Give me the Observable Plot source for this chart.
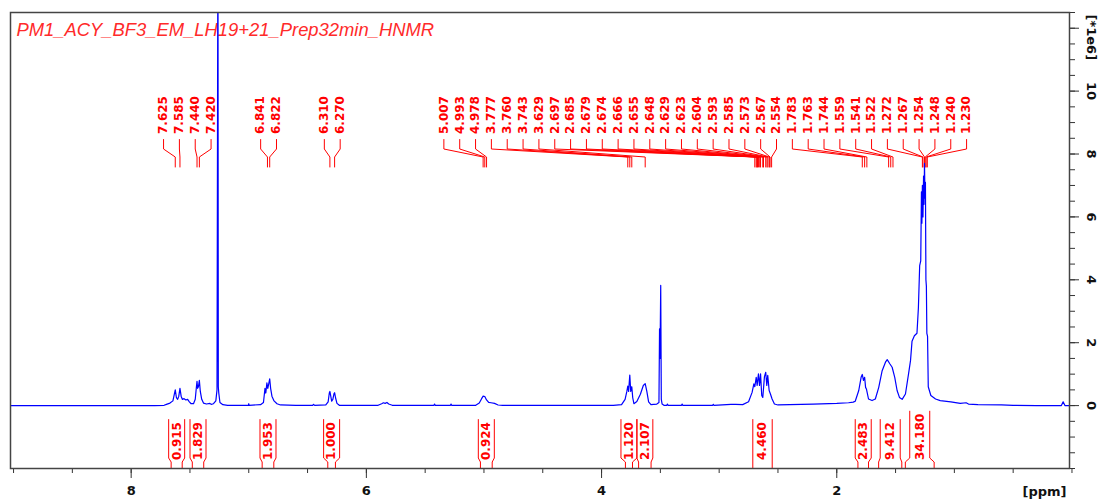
<!DOCTYPE html>
<html><head><meta charset="utf-8">
<script src="https://cdn.jsdelivr.net/npm/d3@7"></script>
<script src="https://cdn.jsdelivr.net/npm/@observablehq/plot@0.6"></script>
<style>html,body{margin:0;padding:0;background:#fff;overflow:hidden}</style>
</head><body><div id="chart"></div>
<script>
// ---------- data ----------
const title = "PM1_ACY_BF3_EM_LH19+21_Prep32min_HNMR";
const shift = [9.03,8.00,7.80,7.72,7.70,7.67,7.645,7.625,7.615,7.605,7.595,7.585,7.575,7.565,7.55,7.535,7.52,7.505,7.49,7.47,7.455,7.445,7.440,7.435,7.428,7.420,7.412,7.40,7.385,7.36,7.33,7.32,7.30,7.28,7.27,7.265,7.262,7.259,7.255,7.245,7.22,7.18,7.05,7.003,7.0,6.997,6.90,6.875,6.862,6.855,6.846,6.838,6.830,6.822,6.814,6.803,6.785,6.76,6.73,6.60,6.455,6.45,6.44,6.345,6.325,6.315,6.310,6.305,6.295,6.285,6.275,6.270,6.262,6.25,6.23,5.90,5.87,5.855,5.84,5.825,5.81,5.78,5.425,5.42,5.415,5.285,5.28,5.275,5.07,5.04,5.02,5.007,4.993,4.978,4.96,4.94,4.91,4.88,4.84,3.90,3.83,3.80,3.785,3.777,3.770,3.760,3.752,3.743,3.735,3.725,3.70,3.67,3.645,3.629,3.615,3.60,3.58,3.53,3.512,3.507,3.503,3.497,3.492,3.485,3.47,3.445,3.44,3.435,3.32,3.315,3.31,3.055,3.05,3.045,2.90,2.86,2.80,2.75,2.72,2.705,2.697,2.685,2.677,2.666,2.657,2.648,2.638,2.629,2.615,2.604,2.595,2.587,2.575,2.564,2.55,2.53,2.50,2.40,2.20,2.00,1.90,1.86,1.843,1.813,1.793,1.783,1.773,1.763,1.755,1.748,1.73,1.70,1.672,1.643,1.614,1.586,1.571,1.549,1.529,1.507,1.487,1.467,1.444,1.416,1.39,1.373,1.36,1.34,1.318,1.306,1.295,1.286,1.280,1.276,1.272,1.267,1.262,1.258,1.254,1.250,1.246,1.242,1.238,1.234,1.228,1.222,1.20,1.16,1.12,1.03,0.95,0.90,0.88,0.80,0.60,0.50,0.30,0.09,0.075,0.06,0.02];
const intensity = [0,0,0,0.01,0.04,0.08,0.15,0.5,0.25,0.2,0.3,0.55,0.3,0.2,0.22,0.18,0.2,0.12,0.06,0.06,0.2,0.6,0.77,0.55,0.6,0.8,0.45,0.2,0.08,0.05,0.07,0.04,0.06,0.15,0.5,10.2,16,0.6,0.4,0.1,0.03,0.01,0.01,0.01,0.06,0.01,0.03,0.1,0.55,0.4,0.72,0.55,0.7,0.85,0.55,0.3,0.15,0.06,0.02,0.01,0.01,0.04,0.01,0.02,0.12,0.4,0.45,0.35,0.14,0.2,0.38,0.41,0.25,0.07,0.01,0.01,0.06,0.09,0.07,0.1,0.05,0.01,0.01,0.05,0.01,0.01,0.05,0.01,0.01,0.08,0.22,0.3,0.29,0.18,0.1,0.09,0.07,0.02,0.01,0.01,0.03,0.2,0.45,0.62,0.45,0.97,0.45,0.6,0.25,0.06,0.13,0.36,0.64,0.7,0.45,0.12,0.03,0.05,0.1,2.44,1.5,3.82,0.2,0.05,0.01,0.01,0.05,0.01,0.01,0.05,0.01,0.01,0.04,0.01,0.04,0.04,0.03,0.12,0.42,0.69,0.6,0.9,0.64,1.01,0.64,1.01,0.32,0.26,0.92,1.06,0.64,0.96,0.48,0.37,0.21,0.05,0.02,0.03,0.05,0.07,0.09,0.11,0.14,0.48,0.9,0.99,0.8,0.9,0.58,0.53,0.21,0.16,0.21,0.58,1.11,1.38,1.46,1.33,1.22,0.9,0.48,0.26,0.2,0.37,1.0,1.43,2.05,2.22,2.3,3.1,4.45,4.6,6.8,5.8,7.0,6.0,7.3,6.4,7.7,6.6,7.1,4.0,3.8,2.3,2.2,0.6,0.32,0.21,0.16,0.12,0.07,0.09,0.05,0.03,0.02,0.01,0,0,0.12,0,0];
const peakLabels = [7.625,7.585,7.440,7.420,6.841,6.822,6.310,6.270,5.007,4.993,4.978,3.777,3.760,3.743,3.629,2.697,2.685,2.679,2.674,2.666,2.655,2.648,2.629,2.623,2.604,2.593,2.585,2.573,2.567,2.554,1.783,1.763,1.744,1.559,1.541,1.522,1.272,1.267,1.254,1.248,1.240,1.230];
const integralValues = ["0.915","1.829","1.953","1.000","0.924","1.120","2.107","4.460","2.483","9.412","34.180"];
const integralFrom = [7.66,7.48,6.886,6.328,5.03,3.797,3.685,2.714,1.82,1.644,1.417];
const integralTo   = [7.566,7.383,6.787,6.263,4.93,3.737,3.579,2.549,1.73,1.447,1.172];
const xMinorTicks = d3.range(0, 9.01, 0.5);
const xMajorTicks = [8, 6, 4, 2];
const yMinorTicks = d3.range(-2, 12.51, 0.5);
const yMajorTicks = [0, 2, 4, 6, 8, 10, 12];
const yTickLabels = [0, 2, 4, 6, 8, 10];
const yUnit = "[*1e6]";
const xUnit = "[ppm]";

// ---------- layout ----------
const W = 1102, H = 504, mL = 10, mR = 33, mT = 12, mB = 36;
const xDomain = [9.026, 0.021], yDomain = [-2.0, 12.5];
const xPx = d3.scaleLinear(xDomain, [mL, W - mR]);
const yPx = d3.scaleLinear(yDomain, [H - mB, mT]);
const yAt = px => yPx.invert(px);
const xAt = px => xPx.invert(px);
const RED = "#ff0000", FONT = "DejaVu Sans";

const spectrum = shift.map((s, i) => ({ppm: s, v: intensity[i]}));

// peak label placement: evenly spaced groups centred on their peaks
const sp = 15.84, gapMin = 44;
let groups = peakLabels.map(p => ({px: [xPx(p)], ppm: [p]})).sort((a, b) => a.px[0] - b.px[0]);
const gc = g => (d3.min(g.px) + d3.max(g.px)) / 2;
const gl = g => gc(g) - (g.px.length - 1) * sp / 2;
const gr = g => gc(g) + (g.px.length - 1) * sp / 2;
let changed = true;
while (changed) {
  changed = false;
  for (let i = 0; i < groups.length - 1; i++) {
    if (gl(groups[i + 1]) - gr(groups[i]) < gapMin) {
      groups[i] = {px: groups[i].px.concat(groups[i + 1].px), ppm: groups[i].ppm.concat(groups[i + 1].ppm)};
      groups.splice(i + 1, 1);
      changed = true; break;
    }
  }
}
const peakText = [], peakLines = [];
groups.forEach(g => {
  const order = d3.range(g.px.length).sort((a, b) => g.px[a] - g.px[b]);
  const l0 = gl(g);
  order.forEach((k, j) => {
    const lx = xAt(l0 + j * sp), p = g.ppm[k], id = p + "_" + j;
    peakText.push({x: lx, y: yAt(133.5), t: p.toFixed(3)});
    peakLines.push({id, x: lx, y: yAt(139)}, {id, x: lx, y: yAt(148.5)},
                   {id, x: p, y: yAt(156.5)}, {id, x: p, y: yAt(166.5)});
  });
});

// integral brackets
const ctx = document.createElement("canvas").getContext("2d");
ctx.font = `bold 12px "${FONT}"`;
const intText = [], intLines = [];
integralValues.forEach((val, i) => {
  const iL = xPx(integralFrom[i]), iR = xPx(integralTo[i]);
  const mid = (iL + iR) / 2, ow = Math.max(16, Math.min(20, iR - iL));
  const oL = mid - ow / 2, oR = mid + ow / 2;
  const top = 459.5 - ctx.measureText(val).width - 2.5;
  intText.push({x: xAt(mid), y: yAt(459.5), t: val});
  [[oL, iL], [oR, iR]].forEach(([o, n], k) => {
    const id = i + "_" + k;
    intLines.push({id, x: xAt(o), y: yAt(top)}, {id, x: xAt(o), y: yAt(457.5)},
                  {id, x: xAt(n), y: yAt(461.5)}, {id, x: xAt(n), y: yAt(H - mB)});
  });
});

const chart = Plot.plot({
  width: W, height: H,
  marginLeft: mL, marginRight: mR, marginTop: mT, marginBottom: mB,
  x: {domain: xDomain, axis: null},
  y: {domain: yDomain, axis: null},
  style: {background: "#fff", fontFamily: FONT},
  marks: [
    Plot.text([title], {frameAnchor: "top-left", dx: 6, dy: 23, textAnchor: "start", lineAnchor: "bottom",
      fill: "#ff2a2a", fontSize: 18.4, fontStyle: "italic", fontFamily: "Liberation Sans"}),
    Plot.line(peakLines, {x: "x", y: "y", z: "id", stroke: RED, strokeWidth: 1}),
    Plot.text(peakText, {x: "x", y: "y", text: "t", rotate: -90, textAnchor: "start", lineAnchor: "middle",
      fill: RED, fontSize: 12, fontWeight: "bold", fontFamily: FONT}),
    Plot.line(intLines, {x: "x", y: "y", z: "id", stroke: RED, strokeWidth: 1}),
    Plot.text(intText, {x: "x", y: "y", text: "t", rotate: -90, textAnchor: "start", lineAnchor: "middle",
      fill: RED, fontSize: 12, fontWeight: "bold", fontFamily: FONT}),
    Plot.line(spectrum, {x: "ppm", y: "v", stroke: "#0000ff", strokeWidth: 1.2, clip: true}),
    Plot.axisX({anchor: "bottom", ticks: xMinorTicks, tickSize: 5, tickFormat: () => "", stroke: "#333"}),
    Plot.axisX({anchor: "bottom", ticks: xMajorTicks, tickSize: 10, tickPadding: 7, stroke: "#333",
      fill: "#111", fontSize: 13, fontWeight: "bold", fontFamily: FONT}),
    Plot.axisY({anchor: "right", ticks: yMinorTicks, tickSize: 5, tickFormat: () => "", stroke: "#333"}),
    Plot.axisY({anchor: "right", ticks: yMajorTicks, tickSize: 9, tickFormat: () => "", stroke: "#333"}),
    Plot.text(yTickLabels, {y: d => d, text: d => String(d), frameAnchor: "right", dx: 22, rotate: 90,
      textAnchor: "middle", lineAnchor: "middle", fill: "#111", fontSize: 13, fontWeight: "bold", fontFamily: FONT}),
    Plot.text([yUnit], {frameAnchor: "top-right", dx: 22, dy: 2, rotate: 90, textAnchor: "start",
      lineAnchor: "middle", fill: "#111", fontSize: 13, fontWeight: "bold", fontFamily: FONT}),
    Plot.text([xUnit], {frameAnchor: "bottom-right", dx: -3, dy: 18, textAnchor: "end", lineAnchor: "top",
      fill: "#111", fontSize: 13, fontWeight: "bold", fontFamily: FONT}),
    Plot.frame({stroke: "#444", strokeWidth: 1.5})
  ]
});
document.getElementById("chart").appendChild(chart);
</script>
</body></html>
